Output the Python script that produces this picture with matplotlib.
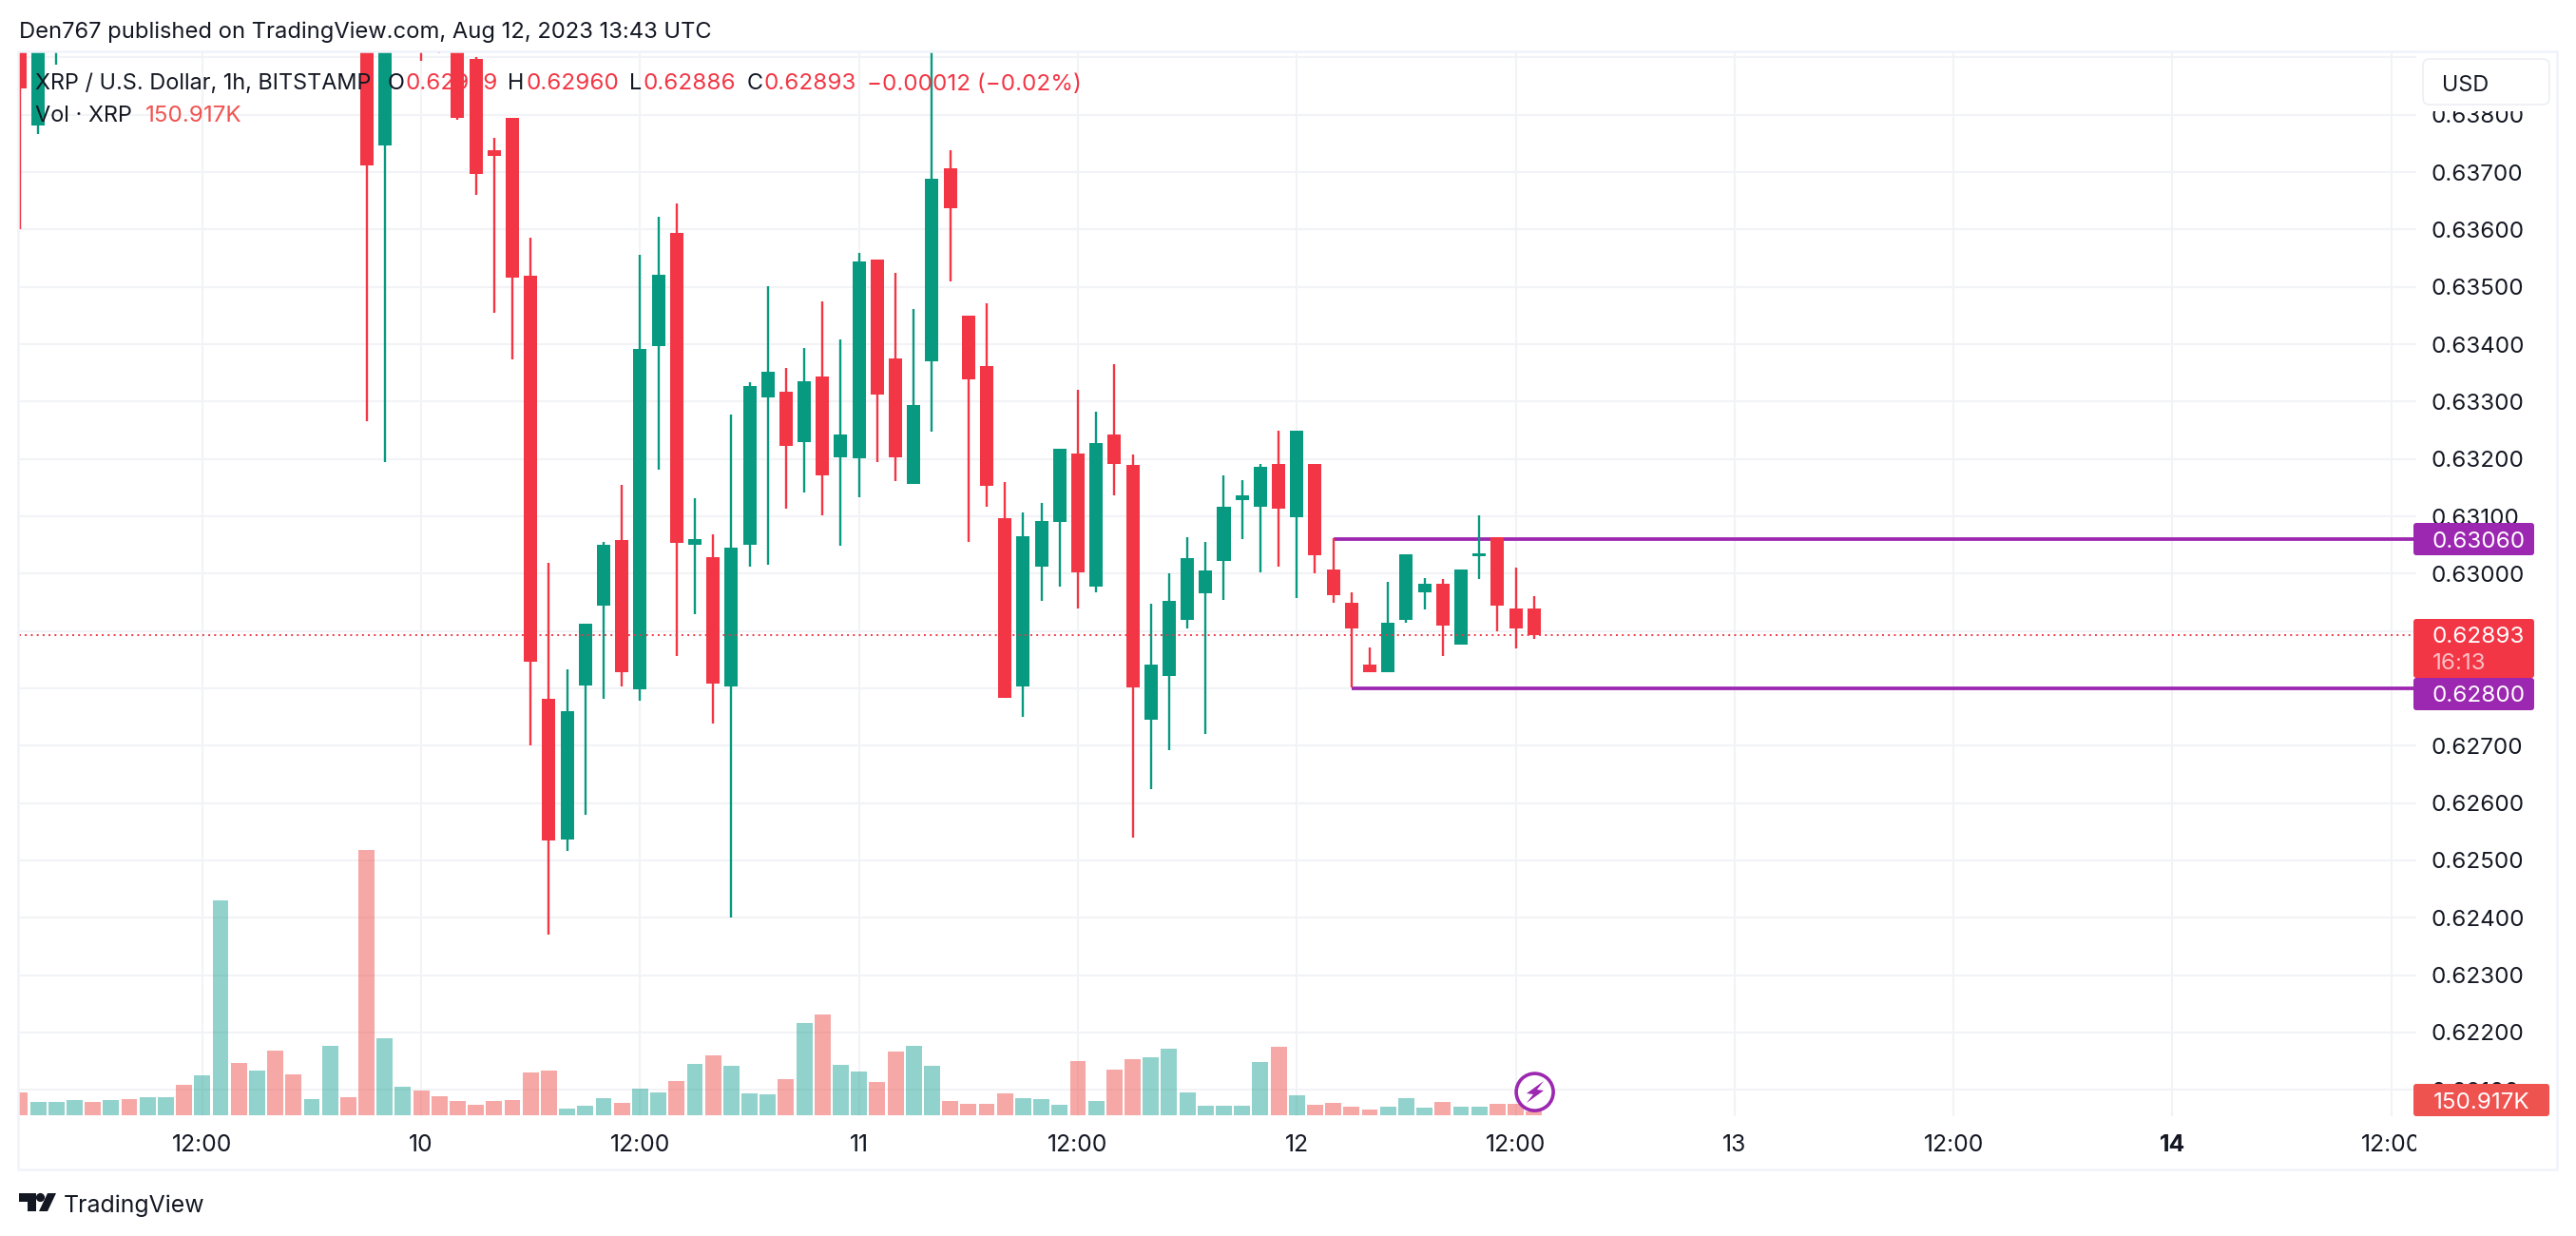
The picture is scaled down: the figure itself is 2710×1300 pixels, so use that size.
import matplotlib
matplotlib.use("Agg")
import matplotlib.pyplot as plt
from matplotlib.patches import Rectangle, FancyBboxPatch, Circle, Polygon

plt.rcParams['font.family'] = ['Inter', 'DejaVu Sans']

# hours counted from Aug 9 00:00, candles above the pane are left out
candle_hours = [2, 3, 4, 21, 22, 24, 25, 26] + list(range(27, 86))
opens = [.63960, .63781, .63950, .63950, .63747, .64050, .64020, .64000,
         .63897, .63738, .63794, .63520, .62781, .62536, .62805, .62944, .63058, .62799,
         .63396, .63594, .63050, .63028, .62803, .63051, .63307, .63318, .63229, .63343,
         .63202, .63201, .63547, .63376, .63156, .63370, .63706, .63449, .63362, .63096,
         .62803, .63013, .63090, .63209, .62978, .63242, .63189, .62745, .62821, .62919,
         .62965, .63022, .63128, .63116, .63191, .63098, .63192, .63008, .62950, .62841,
         .62829, .62920, .62968, .62982, .62877, .63030, .63063, .62939, .62939]
highs = [.64000, .64000, .64050, .64000, .64000, .64100, .64100, .64050,
         .63901, .63760, .63794, .63586, .63018, .62833, .62912, .63056, .63154, .63556,
         .63622, .63645, .63131, .63068, .63277, .63333, .63501, .63358, .63393, .63474,
         .63408, .63559, .63547, .63524, .63461, .63950, .63738, .63449, .63471, .63159,
         .63106, .63124, .63217, .63320, .63282, .63365, .63207, .62947, .63000, .63063,
         .63055, .63172, .63163, .63191, .63249, .63250, .63192, .63062, .62967, .62872,
         .62985, .63033, .62992, .62990, .63008, .63101, .63063, .63010, .62960]
lows = [.63601, .63767, .63888, .63266, .63195, .63894, .63907, .63791,
        .63661, .63454, .63373, .62701, .62371, .62517, .62580, .62781, .62803, .62778,
        .63182, .62856, .62930, .62738, .62400, .63012, .63016, .63113, .63141, .63101,
        .63048, .63134, .63194, .63161, .63156, .63247, .63509, .63056, .63116, .62784,
        .62751, .62952, .62977, .62939, .62967, .63136, .62539, .62624, .62692, .62905,
        .62721, .62954, .63061, .63002, .63013, .62957, .63000, .62950, .62801, .62829,
        .62829, .62915, .62937, .62857, .62877, .62990, .62900, .62869, .62886]
closes = [.63846, .63980, .64000, .63712, .63950, .63950, .63960, .63795,
          .63696, .63729, .63516, .62847, .62535, .62760, .62912, .63051, .62828, .63391,
          .63521, .63053, .63061, .62808, .63045, .63327, .63352, .63222, .63335, .63172,
          .63242, .63544, .63312, .63202, .63294, .63688, .63637, .63338, .63153, .62784,
          .63065, .63091, .63217, .63002, .63227, .63192, .62801, .62842, .62952, .63027,
          .63005, .63116, .63136, .63187, .63114, .63250, .63032, .62962, .62905, .62829,
          .62914, .63033, .62982, .62910, .63008, .63035, .62944, .62905, .62893]

# volume for every hour 2..85, in thousands of XRP
volume_hours = list(range(2, 86))
volumes = [909, 539, 539, 603, 539, 603, 656, 724, 724, 1206, 1598, 8520, 2074, 1772,
           2564, 1621, 656, 2752, 716, 10518, 3054, 1131, 980, 754, 566, 415, 566, 603,
           1697, 1772, 264, 377, 679, 490, 1056, 905, 1357, 2036, 2375, 1960, 867, 829,
           1433, 3657, 3996, 1998, 1734, 1320, 2526, 2752, 1960, 566, 452, 452, 867, 679,
           641, 415, 2149, 566, 1810, 2224, 2300, 2639, 905, 377, 377, 377, 2111, 2714,
           792, 415, 490, 339, 226, 339, 679, 302, 528, 339, 339, 452, 452, 151]
volume_dirs = "rgggrgrggrggrgrrggrrggrrrrrrrrgggrggrgrgggrgrggrrggrrrrgggrgrrgggggggrgrrrrgggrggrrr"

price_ticks = [.621, .622, .623, .624, .625, .626, .627, .628, .629, .630,
               .631, .632, .633, .634, .635, .636, .637, .638, .639]
# .628 and .629 sit fully behind the price tags and .639 behind the USD box
price_labels = ["" if p in (.628, .629, .639) else "%.5f" % p for p in price_ticks]
time_ticks = [12, 24, 36, 48, 60, 72, 84, 96, 108, 120, 132]
time_labels = ["12:00", "10", "12:00", "11", "12:00", "12", "12:00", "13", "12:00", "14", "12:00"]
last_price = 0.62893
level_high = 0.63060
level_low = 0.62800
level_high_start = 74
level_low_start = 75

GREEN = "#089981"
RED = "#F23645"
PURPLE = "#9C27B0"
INK = "#131722"
GRID = "#F2F3F6"
VOL_RED = "#EF5350"
W, H = 2710, 1300

fig = plt.figure(figsize=(W / 100, H / 100), dpi=100, facecolor="white")

# pane runs from x 20 to 2542 and y 54 to 1174 in the picture
ax = fig.add_axes([20 / W, 1 - 1174 / H, (2542 - 20) / W, (1174 - 54) / H])
ax.set_xlim(1.953, 133.37)
ax.set_ylim(0.620541, 0.639106)
for s in ax.spines.values():
    s.set_visible(False)
ax.grid(True, color=GRID, lw=1.5, zorder=0)
ax.set_axisbelow(True)
ax.set_yticks(price_ticks)
ax.set_yticklabels(price_labels)
ax.set_xticks(time_ticks)
ax.set_xticklabels(time_labels)
ax.tick_params(axis="x", length=0, pad=13.4, labelsize=17.8, labelcolor=INK)
ax.get_xticklabels()[9].set_fontweight("bold")

# candles
colors = [GREEN if c >= o else RED for o, c in zip(opens, closes)]
ax.vlines(candle_hours, lows, highs, colors=colors, lw=1.7, zorder=4)
ax.bar(candle_hours, [abs(c - o) for o, c in zip(opens, closes)],
       bottom=[min(o, c) for o, c in zip(opens, closes)],
       width=0.73, color=colors, linewidth=0, zorder=5)

# support and resistance lines, then the last price on top
ax.hlines(level_high, level_high_start, 133.37, color=PURPLE, lw=2.7, zorder=3)
ax.hlines(level_low, level_low_start, 133.37, color=PURPLE, lw=2.7, zorder=3)
ax.axhline(last_price, color=RED, lw=1.4, ls=(0, (1, 2.2)), zorder=6)

# volume pane shares the time axis, baseline sits at the bottom of the pane
ax_vol = ax.twinx()
ax_vol.set_ylim(-30, 42194)
ax_vol.axis("off")
ax_vol.bar(volume_hours, volumes, width=0.88, linewidth=0, alpha=0.5,
           color=["#26A69A" if d == "g" else VOL_RED for d in volume_dirs])

# twinx moves the price labels back to the left
ax.yaxis.tick_right()
ax.tick_params(axis="y", length=0, pad=11.4, labelsize=17.4, labelcolor=INK)

# everything else is placed in picture pixels
ov = fig.add_axes([0, 0, 1, 1], facecolor="none")
ov.set_xlim(0, W)
ov.set_ylim(H, 0)
ov.axis("off")

ov.add_patch(Rectangle((19.3, 54), 2670.7, 1176, fill=False, edgecolor="#F0F3FA", lw=1.8))
ov.add_patch(Rectangle((2542, 1175), 146, 54, color="white", lw=0))


def label(x, y, s, color=INK, size=16.9, **kw):
    ov.text(x, y, s, color=color, fontsize=size, ha=kw.pop("ha", "left"),
            va="center_baseline", **kw)


def tag(y0, y1, x1, color):
    ov.add_patch(FancyBboxPatch((2542, y0 + 3), x1 - 2542 - 3, y1 - y0 - 6,
                                boxstyle="round,pad=3,rounding_size=3", color=color, lw=0))
    ov.add_patch(Rectangle((2542, y0), 10, y1 - y0, color=color, lw=0))


# USD box, its white margin cuts the top of the 0.63800 label
ov.add_patch(Rectangle((2549, 56), 133, 61, color="white", lw=0))
ov.add_patch(FancyBboxPatch((2555, 68), 121, 36, boxstyle="round,pad=6,rounding_size=7",
                            facecolor="white", edgecolor="#EDEEF3", lw=1.2))
label(2569, 87, "USD")

# price tags
tag(651, 713, 2666, RED)
label(2559, 668, "0.62893", color="white", size=17.4)
label(2559, 696, "16:13", color="#FBC0C5", size=17.4)
tag(550, 584, 2666, PURPLE)
label(2559, 567, "0.63060", color="white", size=17.4)
tag(713, 747, 2666, PURPLE)
label(2559, 730, "0.62800", color="white", size=17.4)
tag(1140, 1174, 2682, VOL_RED)
label(2560, 1157, "150.917K", color="white", size=17.4)

# header and legend
label(20, 31.5, "Den767 published on TradingView.com, Aug 12, 2023 13:43 UTC", size=17.1)
label(37, 86, "XRP / U.S. Dollar, 1h, BITSTAMP")
label(408, 86, "O")
label(426.5, 86, "0.62939", color=RED, size=17.4)
label(534.5, 86, "H")
label(553.5, 86, "0.62960", color=RED, size=17.4)
label(662, 86, "L")
label(676.5, 86, "0.62886", color=RED, size=17.4)
label(785.5, 86, "C")
label(803.5, 86, "0.62893", color=RED, size=17.4)
label(912, 86, "\u22120.00012 (\u22120.02%)", color=RED, size=17.4)
label(37, 120, "Vol \u00b7 XRP")
label(153, 120, "150.917K", color=VOL_RED, size=17.4)

# lightning badge at the last bar
ov.add_patch(Circle((1614.6, 1148.6), 19.5, facecolor="white", edgecolor=PURPLE, lw=2.6, zorder=5))
ov.add_patch(Polygon([(1624, 1137), (1606, 1150), (1613, 1151), (1606, 1160),
                      (1624, 1147), (1617, 1146)], color=PURPLE, lw=0, zorder=6))

# TradingView logo
ov.add_patch(Polygon([(20, 1255), (38, 1255), (38, 1274), (29, 1274), (29, 1264), (20, 1264)],
                     color=INK, lw=0))
ov.add_patch(Circle((42.5, 1259.5), 4.6, color=INK, lw=0))
ov.add_patch(Polygon([(50, 1255), (59, 1255), (50, 1274), (41, 1274)], color=INK, lw=0))
label(67, 1266, "TradingView", size=17.9)

fig.savefig("out.png", dpi=100)
